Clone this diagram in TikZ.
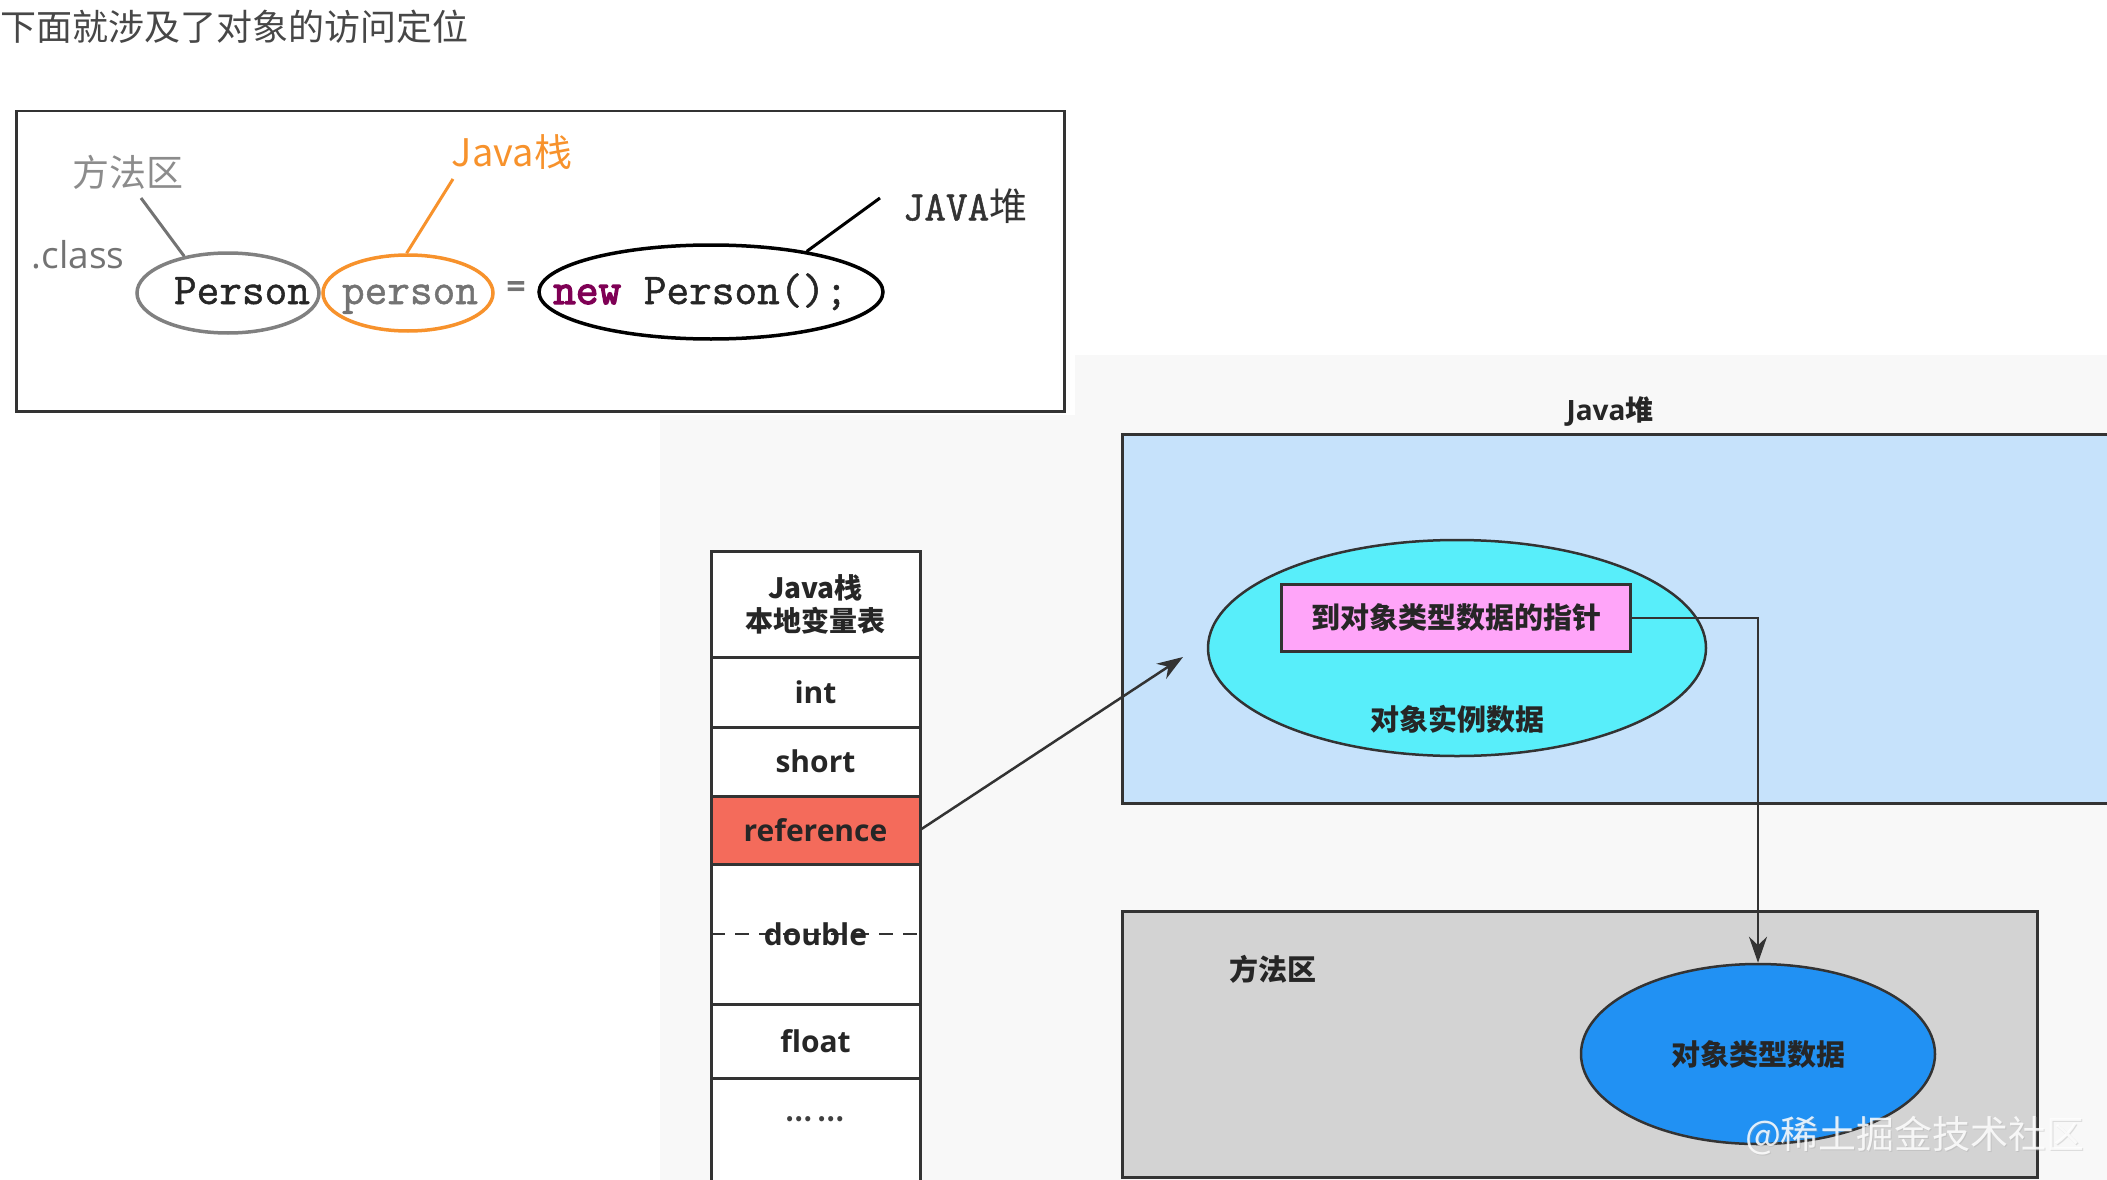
\documentclass[tikz,border=0pt]{standalone}
\usepackage{fontspec}
\setmainfont{Open Sans}
\setmonofont[FakeBold=1.2]{Latin Modern Mono}
\newfontfamily\cjk{Noto Sans CJK SC}
\usetikzlibrary{shapes.geometric,arrows.meta}
\definecolor{heapblue}{HTML}{C6E2FB}
\definecolor{objcyan}{HTML}{58EEFA}
\definecolor{ptrpink}{HTML}{FFA5F9}
\definecolor{refred}{HTML}{F46B5B}
\definecolor{magray}{HTML}{D3D3D3}
\definecolor{clsblue}{HTML}{2191F3}
\definecolor{javaorange}{HTML}{F7922C}
\definecolor{kwpurple}{HTML}{7F0055}
\definecolor{edge}{HTML}{333333}
\definecolor{bgtint}{HTML}{F8F8F8}
\tikzset{
  lbl/.style={font=\cjk\bfseries\fontsize{29}{33}\selectfont, text=black!85, inner sep=0pt},
  celltxt/.style={font=\bfseries\fontsize{30}{34}\selectfont, text=black!85},
  cell/.style={draw=edge, line width=3pt, fill=white, minimum width=209pt, inner sep=0pt, outer sep=0pt, anchor=north west},
  codeell/.style={ellipse, line width=3.5pt, inner sep=0pt},
  code/.style={font=\ttfamily\fontsize{44}{48}\selectfont, inner sep=0pt},
  callout/.style={line width=3pt},
  arr/.style={draw=edge, line width=2.5pt, -{Stealth[length=26pt,width=18pt]}},
}
\begin{document}
\begin{tikzpicture}[x=1pt,y=-1pt]
\useasboundingbox (0,0) rectangle (2107,1180);
\clip (0,0) rectangle (2107,1180);
% faint background tint
\fill[bgtint] (660,415) rectangle (2107,1180);
\fill[bgtint] (1075,355) rectangle (2107,415);

% title
\node[anchor=west, font=\cjk\fontsize{36}{40}\selectfont, text=black!72, inner sep=0pt] (title) at (0,27) {下面就涉及了对象的访问定位};

% top box
\node[draw=edge, line width=2.5pt, minimum width=1048pt, minimum height=300pt, anchor=north west, inner sep=0pt] (topbox) at (15,110) {};
\node[font=\cjk\fontsize{37}{42}\selectfont, text=black!45] (ff) at (128,172) {方法区};
\node[font=\fontsize{37}{42}\selectfont, text=black!55] (cl) at (78,255) {.class};
\node[codeell, draw=black!50, minimum width=182pt, minimum height=80pt] (pe) at (228,293) {};
\node[codeell, draw=javaorange, minimum width=170pt, minimum height=76pt] (pp) at (408,293) {};
\node[codeell, draw=black, minimum width=344pt, minimum height=94pt] (ne) at (711,292) {};
\node[code, text=black!85, anchor=base] (petxt) at (242,304) {Person};
\node[code, text=black!55, anchor=base] (pptxt) at (410,304) {person};
\node[code, text=black!85, anchor=base west] (netxt) at (553,304) {{\color{kwpurple}\addfontfeature{FakeBold=3}new} Person();};
\node[font=\bfseries\fontsize{34}{40}\selectfont, text=black!55] (eq) at (516,290) {=};
\node[font=\cjk\fontsize{38}{42}\selectfont, text=javaorange] (jz) at (512,152) {Java栈};
\node[font=\ttfamily\fontsize{42}{46}\selectfont, text=black!80] (jh) at (965,206) {JAVA{\cjk\fontsize{38}{42}\selectfont 堆}};
\coordinate (c1) at (141,198);
\coordinate (c2) at (453,179);
\coordinate (c3) at (880,198);
\draw[callout, draw=black!55] (c1) -- (pe.140);
\draw[callout, draw=javaorange] (c2) -- (pp.92);
\draw[callout, draw=black] (c3) -- (ne.23);

% stack table
\node[cell, minimum height=106pt, font=\cjk\bfseries\fontsize{28}{33}\selectfont, text=black!85, align=center] (hdr) at (711,551) {Java栈\\本地变量表};
\node[cell, minimum height=70pt, celltxt] (int) at (711,657) {int};
\node[cell, minimum height=69pt, celltxt] (short) at (711,727) {short};
\node[cell, minimum height=68pt, celltxt, fill=refred] (ref) at (711,796) {reference};
\node[cell, minimum height=140pt] (dbl) at (711,864) {};
\draw[draw=edge, line width=2.5pt, dash pattern=on 14pt off 10pt] (dbl.west) -- (dbl.east);
\node[celltxt, fill=none] (dbltxt) at (dbl.center) {double};
\node[cell, minimum height=74pt, celltxt] (flt) at (711,1004) {float};
\node[cell, minimum height=110pt] (etc) at (711,1078) {};
\node[font=\cjk\bfseries\fontsize{24}{28}\selectfont, text=black!75] (etctxt) at (815,1119) {… …};

% Java heap
\node[font=\bfseries\fontsize{28}{32}\selectfont, text=black!85] (heaplbl) at (1610,411) {Java{\cjk\bfseries 堆}};
\node[draw=edge, line width=3pt, fill=heapblue, minimum width=1010pt, minimum height=369pt, anchor=north west, inner sep=0pt] (heap) at (1121,433) {};
\node[ellipse, draw=edge, line width=2.5pt, fill=objcyan, minimum width=498pt, minimum height=216pt, inner sep=0pt] (obj) at (1457,648) {};
\node[draw=edge, line width=3pt, fill=ptrpink, minimum width=349pt, minimum height=67pt, inner sep=0pt, lbl] (ptr) at (1456,618) {到对象类型数据的指针};
\node[lbl] (objtxt) at (1457,719) {对象实例数据};

% method area
\node[draw=edge, line width=3pt, fill=magray, minimum width=915pt, minimum height=266pt, anchor=north west, inner sep=0pt] (ma) at (1121,910) {};
\node[lbl] (malbl) at (1273,969) {方法区};
\node[ellipse, draw=edge, line width=2.5pt, fill=clsblue, minimum width=354pt, minimum height=180pt, inner sep=0pt] (cls) at (1758,1054) {};
\node[lbl] (clstxt) at (1758,1054) {对象类型数据};

% connectors
\coordinate (ae) at (1183,657);
\draw[arr] (ref.east) -- (ae);
\draw[arr] (ptr.east) -| (cls.north);

% watermark
\node[font=\cjk\fontsize{38}{42}\selectfont, text=black!35, opacity=0.35] (wm2) at (1916,1137) {@稀土掘金技术社区};
\node[font=\cjk\fontsize{38}{42}\selectfont, text=white, opacity=0.85] (wm) at (1915,1136) {@稀土掘金技术社区};
\end{tikzpicture}
\end{document}
